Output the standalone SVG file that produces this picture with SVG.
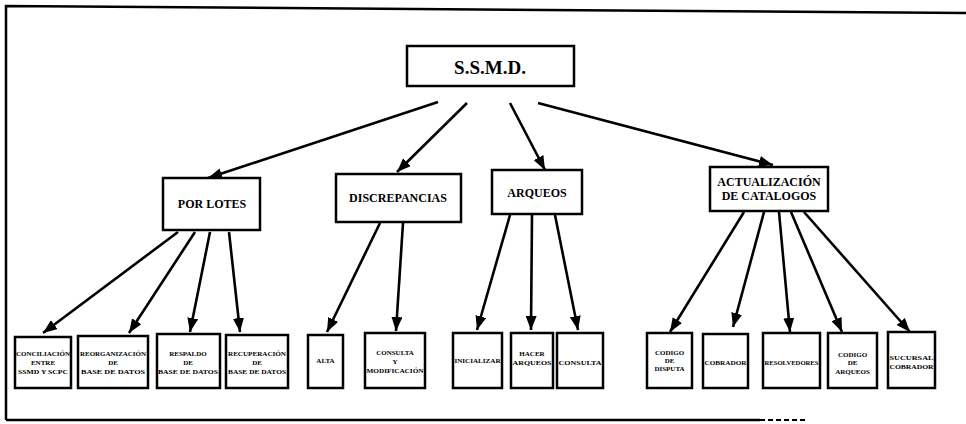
<svg xmlns="http://www.w3.org/2000/svg" width="966" height="424" viewBox="0 0 966 424">
<style>
.box{fill:#fff;stroke:#000;stroke-width:2.5}
.frame{fill:none;stroke:#000;stroke-width:2.5}
.t{font-family:"Liberation Serif","Times New Roman",serif;font-weight:bold;fill:#000;text-anchor:middle}
.big{font-size:19px}
.mid{font-size:12px}
.sm{font-size:7px}
.arr{fill:none;stroke:#000;stroke-width:2.6;marker-end:url(#ah)}
</style>
<defs>
<marker id="ah" markerUnits="userSpaceOnUse" markerWidth="15" markerHeight="11" refX="14" refY="5.5" orient="auto">
<path d="M0,0 L14,5.5 L0,11 z" fill="#000"/>
</marker>
</defs>
<rect width="966" height="424" fill="#fff"/>
<g id="frame">
<path class="frame" d="M6,420 L6,6 L966,13"/>
<path class="frame" d="M6,420 L760,420"/>
<path d="M760,420 L805,420" stroke="#000" stroke-width="2" stroke-dasharray="5,3" fill="none"/>
</g>
<g id="connectors">
<path class="arr" d="M438,102 L208,178"/>
<path class="arr" d="M467,103 L397,172"/>
<path class="arr" d="M510,103 L545,170"/>
<path class="arr" d="M538,103 L773,165"/>
<path class="arr" d="M178,232 L43,333"/>
<path class="arr" d="M195,232 L129,333"/>
<path class="arr" d="M210,232 L190,332"/>
<path class="arr" d="M229,232 L240,332"/>
<path class="arr" d="M380,223 L327,332"/>
<path class="arr" d="M403,223 L396,331"/>
<path class="arr" d="M510,215 L477,330"/>
<path class="arr" d="M532,215 L531,330"/>
<path class="arr" d="M555,215 L578,330"/>
<path class="arr" d="M744,212 L670,332"/>
<path class="arr" d="M764,212 L733,327"/>
<path class="arr" d="M779,212 L790,332"/>
<path class="arr" d="M791,212 L842,332"/>
<path class="arr" d="M804,212 L910,332"/>
</g>
<g id="ssmd"><rect class="box" x="407" y="46" width="167" height="40"/><text class="t big" x="490" y="74">S.S.M.D.</text></g>
<g id="porlotes"><rect class="box" x="163" y="178" width="97" height="52"/><text class="t mid" x="212" y="208">POR LOTES</text></g>
<g id="discrepancias"><rect class="box" x="336" y="174" width="125" height="48"/><text class="t mid" x="398" y="202">DISCREPANCIAS</text></g>
<g id="arqueos"><rect class="box" x="492" y="170" width="90" height="44"/><text class="t mid" x="537" y="197">ARQUEOS</text></g>
<g id="actualizacion"><rect class="box" x="710" y="167" width="118" height="44"/><text class="t mid" x="769" y="186">ACTUALIZACIÓN</text><text class="t mid" x="769" y="200">DE CATALOGOS</text></g>

<g id="conciliacion"><rect class="box" x="15" y="337" width="56" height="51"/><text class="t sm" x="43" y="356" textLength="54" lengthAdjust="spacingAndGlyphs">CONCILIACIÓN</text><text class="t sm" x="43" y="365">ENTRE</text><text class="t sm" x="43" y="374" textLength="50" lengthAdjust="spacingAndGlyphs">SSMD Y SCPC</text></g>
<g id="reorganizacion"><rect class="box" x="78" y="336" width="70" height="52"/><text class="t sm" x="113" y="356" textLength="66" lengthAdjust="spacingAndGlyphs">REORGANIZACIÓN</text><text class="t sm" x="113" y="365">DE</text><text class="t sm" x="113" y="374" textLength="64" lengthAdjust="spacingAndGlyphs">BASE DE DATOS</text></g>
<g id="respaldo"><rect class="box" x="157" y="334" width="63" height="54"/><text class="t sm" x="188" y="356">RESPALDO</text><text class="t sm" x="188" y="365">DE</text><text class="t sm" x="188" y="374" textLength="60" lengthAdjust="spacingAndGlyphs">BASE DE DATOS</text></g>
<g id="recuperacion"><rect class="box" x="226" y="335" width="62" height="53"/><text class="t sm" x="257" y="356" textLength="58" lengthAdjust="spacingAndGlyphs">RECUPERACIÓN</text><text class="t sm" x="257" y="365">DE</text><text class="t sm" x="257" y="374" textLength="58" lengthAdjust="spacingAndGlyphs">BASE DE DATOS</text></g>
<g id="alta"><rect class="box" x="308" y="335" width="35" height="53"/><text class="t sm" x="325.5" y="363">ALTA</text></g>
<g id="consultamod"><rect class="box" x="365" y="333" width="60" height="55"/><text class="t sm" x="395" y="355">CONSULTA</text><text class="t sm" x="395" y="364">Y</text><text class="t sm" x="395" y="373" textLength="57" lengthAdjust="spacingAndGlyphs">MODIFICACIÓN</text></g>
<g id="inicializar"><rect class="box" x="453" y="333" width="49" height="55"/><text class="t sm" x="477.5" y="363" textLength="46" lengthAdjust="spacingAndGlyphs">INICIALIZAR</text></g>
<g id="hacer"><rect class="box" x="511" y="333" width="42" height="55"/><text class="t sm" x="532" y="356">HACER</text><text class="t sm" x="532" y="365" textLength="39" lengthAdjust="spacingAndGlyphs">ARQUEOS</text></g>
<g id="consulta"><rect class="box" x="557" y="333" width="46" height="55"/><text class="t sm" x="580" y="365" textLength="43" lengthAdjust="spacingAndGlyphs">CONSULTA</text></g>
<g id="codigodisputa"><rect class="box" x="647" y="333" width="45" height="55"/><text class="t sm" x="669.5" y="355">CODIGO</text><text class="t sm" x="669.5" y="363">DE</text><text class="t sm" x="669.5" y="371">DISPUTA</text></g>
<g id="cobrador"><rect class="box" x="703" y="334" width="45" height="54"/><text class="t sm" x="725.5" y="365" textLength="42" lengthAdjust="spacingAndGlyphs">COBRADOR</text></g>
<g id="resolvedores"><rect class="box" x="763" y="333" width="57" height="55"/><text class="t sm" x="791.5" y="365" textLength="54" lengthAdjust="spacingAndGlyphs">RESOLVEDORES</text></g>
<g id="codigoarqueos"><rect class="box" x="828" y="333" width="49" height="55"/><text class="t sm" x="852.5" y="357">CODIGO</text><text class="t sm" x="852.5" y="365">DE</text><text class="t sm" x="852.5" y="374">ARQUEOS</text></g>
<g id="sucursal"><rect class="box" x="888" y="332" width="47" height="56"/><text class="t sm" x="911.5" y="360" textLength="44" lengthAdjust="spacingAndGlyphs">SUCURSAL</text><text class="t sm" x="911.5" y="369" textLength="44" lengthAdjust="spacingAndGlyphs">COBRADOR</text></g>
</svg>
